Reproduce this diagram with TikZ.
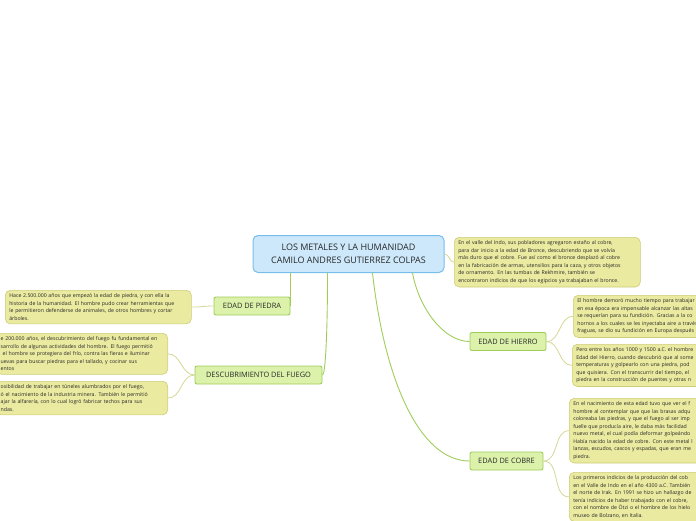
\documentclass[tikz,border=0pt]{standalone}
\usepackage{fontspec}
\setmainfont{Open Sans}
\usetikzlibrary{positioning,calc}
\definecolor{rootfill}{RGB}{204,232,250}
\definecolor{rootline}{RGB}{120,190,235}
\definecolor{topfill}{RGB}{220,242,170}
\definecolor{topline}{RGB}{160,205,90}
\definecolor{notefill}{RGB}{234,234,160}
\definecolor{noteline}{RGB}{205,205,120}
\definecolor{twigcol}{RGB}{214,214,150}
\definecolor{inkcol}{RGB}{40,40,40}

\begin{document}
\begin{tikzpicture}[x=1pt,y=-1pt]
\tikzset{
  root/.style={draw=rootline, fill=rootfill, rounded corners=5pt, line width=1pt, minimum width=191pt, minimum height=37pt, align=center, font=\fontsize{9}{13.5}\selectfont, text=inkcol},
  topic/.style={draw=topline, fill=topfill, rounded corners=2pt, line width=0.9pt, minimum height=18pt, inner sep=0pt, font=\fontsize{7.4}{8}\selectfont, text=inkcol},
  note/.style={draw=noteline, fill=notefill, rounded corners=5pt, line width=0.6pt, inner xsep=4pt, inner ysep=3.5pt, align=left, font=\fontsize{5.2}{7.5}\selectfont, text=inkcol},
  branch/.style={draw=topline, line width=0.9pt},
  twig/.style={draw=twigcol, line width=0.8pt}
}
\useasboundingbox (0,0) rectangle (696,520);
\clip (0,0) rectangle (696,520);

% centre
\node[root] (root) at (348.5,254) {LOS METALES Y LA HUMANIDAD\\CAMILO ANDRES GUTIERREZ COLPAS};

% topics
\node[topic, minimum width=76pt] (piedra) at (252,306) {EDAD DE PIEDRA};
\node[topic, minimum width=127pt] (fuego) at (258.5,375) {DESCUBRIMIENTO DEL FUEGO};
\node[topic, minimum width=76pt] (hierro) at (508,341.5) {EDAD DE HIERRO};
\node[topic, minimum width=73pt] (cobre) at (506.5,461) {EDAD DE COBRE};

% notes
\node[note, anchor=north west, text width=178pt] (bronce) at (454,237)
  {En el valle del Indo, sus pobladores agregaron estaño al cobre,\\
   para dar inicio a la edad de Bronce, descubriendo que se volvía\\
   más duro que el cobre. Fue así como el bronce desplazó al cobre\\
   en la fabricación de armas, utensilios para la caza, y otros objetos\\
   de ornamento. En las tumbas de Rekhmire, también se\\
   encontraron indicios de que los egipcios ya trabajaban el bronce.};
\node[note, anchor=north west, text width=178pt] (npiedra) at (5,290)
  {Hace 2.500.000 años que empezó la edad de piedra, y con ella la\\
   historia de la humanidad. El hombre pudo crear herramientas que\\
   le permitieron defenderse de animales, de otros hombres y cortar\\
   árboles.};
\node[note, anchor=north east, text width=163pt] (nfuego) at (168,333)
  {e 200.000 años, el descubrimiento del fuego fu fundamental en\\
   sarrollo de algunas actividades del hombre. El fuego permitió\\
   \hspace{2pt}el hombre se protegiera del frío, contra las fieras e iluminar\\
   uevas para buscar piedras para el tallado, y cocinar sus\\
   entos};
\node[note, anchor=north east, text width=163pt] (nminera) at (168,381)
  {osibilidad de trabajar en túneles alumbrados por el fuego,\\
   ó el nacimiento de la industria minera. También le permitió\\
   ajar la alfarería, con lo cual logró fabricar techos para sus\\
   ndas.};
\node[note, anchor=north west, text width=160pt] (nhierro) at (573,295)
  {El hombre demoró mucho tiempo para trabajar\\
   en esa época era impensable alcanzar las altas\\
   se requerían para su fundición. Gracias a la co\\
   hornos a los cuales se les inyectaba aire a través\\
   fraguas, se dio su fundición en Europa después};
\node[note, anchor=north west, text width=160pt] (nhierro2) at (572,344)
  {Pero entre los años 1000 y 1500 a.C. el hombre\\
   Edad del Hierro, cuando descubrió que al some\\
   temperaturas y golpearlo con una piedra, pod\\
   que quisiera. Con el transcurrir del tiempo, el\\
   piedra en la construcción de puentes y otras n};
\node[note, anchor=north west, text width=160pt] (ncobre) at (569,398)
  {En el nacimiento de esta edad tuvo que ver el f\\
   hombre al contemplar que que las brasas adqu\\
   coloreaba las piedras, y que el fuego al ser imp\\
   fuelle que producía aire, le daba más facilidad\\
   nuevo metal, el cual podía deformar golpeándo\\
   Había nacido la edad de cobre. Con este metal l\\
   lanzas, escudos, cascos y espadas, que eran me\\
   piedra.};
\node[note, anchor=north west, text width=160pt] (ncobre2) at (569,472)
  {Los primeros indicios de la producción del cob\\
   en el Valle de Indo en el año 4300 a.C. También\\
   el norte de Irak. En 1991 se hizo un hallazgo de\\
   tenía indicios de haber trabajado con el cobre,\\
   con el nombre de Ötzi o el hombre de los hielo\\
   museo de Bolzano, en Italia.};

% branches
\draw[branch] (piedra.east |- root.south) -- (piedra.east);
\draw[branch] ($(root.south west)+(75,0)$) .. controls +(0,60) and +(3,0) .. (fuego.east);
\draw[branch] ($(root.south west)+(160,0)$) .. controls +(7,37) and +(-25,0) .. (hierro.west);
\draw[branch] ($(root.south west)+(120,0)$) .. controls +(12,107) and +(-50,0) .. (cobre.west);

% twigs
\draw[twig] (root.east) to[out=0,in=180] (bronce.west);
\draw[twig] (piedra.west) to[out=180,in=0] (npiedra.east);
\draw[twig] (fuego.west) to[out=180,in=0] (nfuego.east);
\draw[twig] (fuego.west) to[out=180,in=0] (nminera.east);
\draw[twig] (hierro.east) to[out=0,in=180] (nhierro.west);
\draw[twig] (hierro.east) to[out=0,in=180] (nhierro2.west);
\draw[twig] (cobre.east) to[out=0,in=180] (ncobre.west);
\draw[twig] (cobre.east) to[out=0,in=180] (ncobre2.west);
\end{tikzpicture}
\end{document}
